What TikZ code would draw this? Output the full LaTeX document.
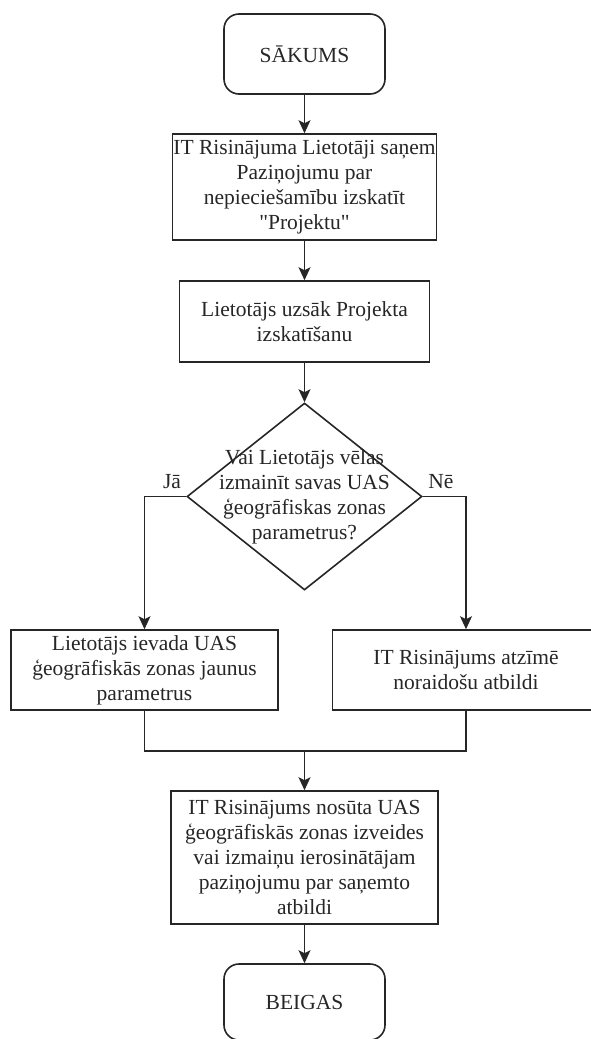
\documentclass[tikz,border=0pt]{standalone}
\usepackage{fontspec}
\setmainfont{Liberation Serif}[Ligatures=TeXOff]
\usetikzlibrary{arrows.meta,shapes.geometric}

\begin{document}
\begin{tikzpicture}[>={Stealth[length=13pt,width=12pt,inset=3pt]},x=1pt,y=-1pt,
  every node/.style={font=\fontsize{21.5}{25}\selectfont,text=black!85},
  process/.style={draw=black!85,line width=1.6pt,inner sep=0pt,align=center},
  terminal/.style={process,rounded corners=15pt,minimum width=161pt},
  choice/.style={draw=black!85,line width=1.6pt,diamond,inner sep=0pt,minimum width=235pt,minimum height=187pt},
  flow/.style={->,draw=black!85,line width=1.6pt}]
  \useasboundingbox (0,0) rectangle (591,1039);
  \node[terminal,minimum height=80pt] (start) at (304.5,54) {SĀKUMS};
  \node[process,minimum width=264pt,minimum height=106pt] (notify) at (304.5,187) {IT Risinājuma Lietotāji saņem\\Paziņojumu par\\nepieciešamību izskatīt\\"Projektu"};
  \node[process,minimum width=250pt,minimum height=81pt] (open) at (304.5,321.5) {Lietotājs uzsāk Projekta\\izskatīšanu};
  % decision with its text laid over it
  \node[choice] (dec) at (304.5,496.5) {};
  \node[align=center] (dectext) at (dec.center) {Vai Lietotājs vēlas\\izmainīt savas UAS\\ģeogrāfiskas zonas\\parametrus?};
  \node (yes) at (172,482) {Jā};
  \node (no) at (441,482) {Nē};
  \node[process,minimum width=267pt,minimum height=80pt] (enter) at (144.5,670) {Lietotājs ievada UAS\\ģeogrāfiskās zonas jaunus\\parametrus};
  \node[process,minimum width=267pt,minimum height=80pt] (reject) at (466,670) {IT Risinājums atzīmē\\noraidošu atbildi};
  \node[process,minimum width=267pt,minimum height=133pt] (send) at (304.5,857.5) {IT Risinājums nosūta UAS\\ģeogrāfiskās zonas izveides\\vai izmaiņu ierosinātājam\\paziņojumu par saņemto\\atbildi};
  \node[terminal,minimum height=76pt] (end) at (304.5,1002) {BEIGAS};
  \coordinate (join) at (304.5,751);
  \draw[flow] (start) -- (notify);
  \draw[flow] (notify) -- (open);
  \draw[flow] (open) -- (dec);
  \draw[flow] (dec.west) -| (enter.north);
  \draw[flow] (dec.east) -| (reject.north);
  % both branches meet before the last step
  \draw[draw=black!85,line width=1.6pt] (enter.south) |- (join) -| (reject.south);
  \draw[flow] (join) -- (send);
  \draw[flow] (send) -- (end);
\end{tikzpicture}
\end{document}
